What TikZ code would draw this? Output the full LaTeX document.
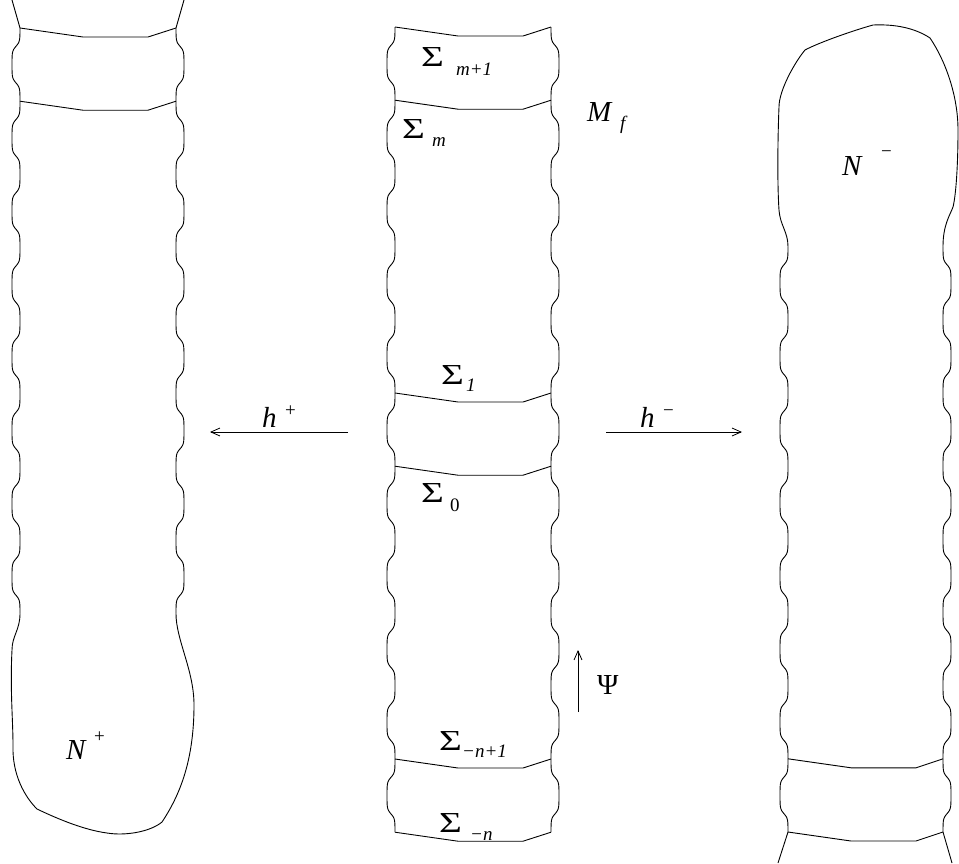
\documentclass[tikz,border=0pt]{standalone}
\usepackage{fontspec}
\setmainfont{Liberation Serif}
\usetikzlibrary{arrows.meta}
\tikzset{
  wall/.style={line width=0.9pt, line join=round},
  lab/.style={inner sep=0pt, font=\fontsize{29}{32}\selectfont},
  sublab/.style={inner sep=0pt, font=\fontsize{19}{22}\selectfont\itshape},
  suplab/.style={inner sep=0pt, font=\fontsize{19}{22}\selectfont\upshape},
  arr/.style={line width=0.8pt, -{Straight Barb[length=9pt,width=8pt]}},
}
\newcommand{\Sig}{\scalebox{1.35}[1]{Σ}}
\newcommand{\wallplot}[6]{% xi, sign, y0, y1, phase, samples
  \draw[wall] plot[domain=#3:#4, samples=#6] ({#1+#2*4*(1-tanh(2.5*cos((\x-#5)/73.2*360))/tanh(2.5))},\x);}
\newcommand{\divline}[3]{% xL, xR, y
  \draw[wall] (#1,#3) -- ({#1+63},{#3+9}) -- ({#1+128},{#3+9}) -- (#2,#3);}
\begin{document}
\begin{tikzpicture}[x=1pt,y=-1pt]
\useasboundingbox (0,0) rectangle (959,863);
% ---------------- left column N+
\wallplot{20}{-1}{28}{613.6}{28}{300}
\wallplot{176}{1}{28}{613.6}{28}{300}
\divline{20}{176}{28}
\divline{20}{176}{101.2}
\draw[wall] (20,28) -- (12,0);
\draw[wall] (176,28) -- (184,0);
\draw[wall] (20,613.6) .. controls (20,630) and (12,636) .. (12,650)
  .. controls (10,690) and (13,720) .. (13,745)
  .. controls (12,775) and (25,797) .. (37,809)
  .. controls (60,820) and (85,830) .. (107,833)
  .. controls (125,836) and (150,832) .. (162,822)
  .. controls (180,795) and (194,760) .. (194,705)
  .. controls (194,670) and (176,640) .. (176,613.6);
% ---------------- centre column
\wallplot{395}{-1}{27}{832}{27}{420}
\wallplot{551}{1}{27}{832}{27}{420}
\divline{395}{551}{27}
\divline{395}{551}{100.2}
\divline{395}{551}{393}
\divline{395}{551}{466.2}
\divline{395}{551}{759}
\divline{395}{551}{832.2}
% ---------------- right column N-
\wallplot{788}{-1}{246.4}{832}{246.4}{300}
\wallplot{943}{1}{246.4}{832}{246.4}{300}
\divline{788}{943}{758.8}
\divline{788}{943}{832}
\draw[wall] (788,832) -- (778,863);
\draw[wall] (943,832) -- (952,863);
\draw[wall] (788,246.4) .. controls (788,232) and (780,225) .. (779,210)
  .. controls (777,180) and (778,130) .. (779,107)
  .. controls (779,90) and (795,62) .. (805,50)
  .. controls (820,42) and (855,30) .. (873,25)
  .. controls (895,24) and (915,28) .. (930,38)
  .. controls (945,60) and (958,95) .. (958,130)
  .. controls (958,165) and (956,195) .. (953,207)
  .. controls (950,215) and (943,225) .. (943,246.4);
% ---------------- labels
\node[lab, anchor=base west] (Smp) at (421,66) {\Sig};
\node[sublab, anchor=base west] (Smps) at (456,75) {m+1};
\node[lab, anchor=base west] (Sm) at (402,138) {\Sig};
\node[sublab, anchor=base west] (Sms) at (432,146) {m};
\node[lab, anchor=base west] (M) at (587,121) {\itshape M};
\node[sublab, anchor=base west] (Ms) at (620,129) {f};
\node[lab, anchor=base west] (S1) at (441,384) {\Sig};
\node[sublab, anchor=base west] (S1s) at (466,391) {1};
\node[lab, anchor=base west] (S0) at (421,502) {\Sig};
\node[suplab, anchor=base west] (S0s) at (450,511) {0};
\node[lab, anchor=base west] (Sn1) at (439,750) {\Sig};
\node[sublab, anchor=base west] (Sn1s) at (462,757) {−n+1};
\node[lab, anchor=base west] (Sn) at (439,832) {\Sig};
\node[sublab, anchor=base west] (Sns) at (470,840) {−n};
\node[lab, anchor=base west] (hp) at (262,427) {\itshape h};
\node[suplab, anchor=base west] (hps) at (285,416) {+};
\node[lab, anchor=base west] (hm) at (640,427) {\itshape h};
\node[suplab, anchor=base west] (hms) at (663,416) {−};
\node[lab, anchor=base west] (Np) at (66,759) {\itshape N};
\node[suplab, anchor=base west] (Nps) at (94,742) {+};
\node[lab, anchor=base west] (Nm) at (842,175) {\itshape N};
\node[suplab, anchor=base west] (Nms) at (881,157) {−};
\node[lab, anchor=base west] (Psi) at (597,694) {Ψ};
% ---------------- arrows
\coordinate (hpA) at (348,432);
\coordinate (hpB) at (210,432);
\coordinate (hmA) at (606,432);
\coordinate (hmB) at (742,432);
\coordinate (psA) at (578,712);
\coordinate (psB) at (578,650);
\draw[arr] (hpA) -- (hpB);
\draw[arr] (hmA) -- (hmB);
\draw[arr] (psA) -- (psB);
\end{tikzpicture}
\end{document}
